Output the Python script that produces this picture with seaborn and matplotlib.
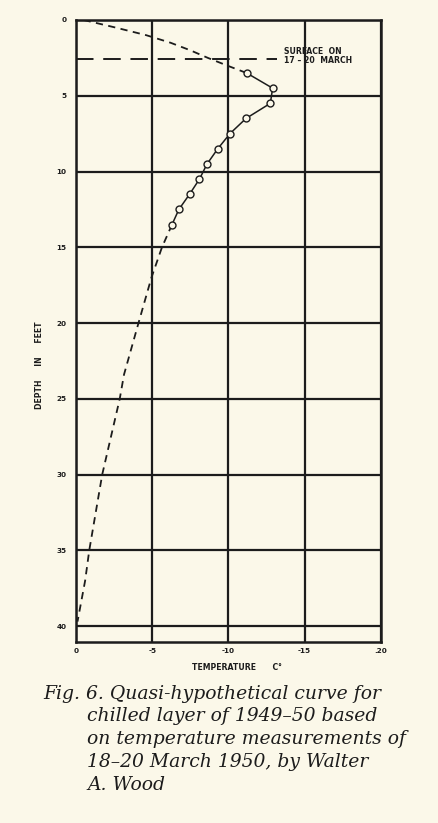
import pandas as pd
import matplotlib
matplotlib.use("Agg")
import matplotlib.pyplot as plt
import seaborn as sns

# Measured temperatures (18-20 March 1950)
depth_obs = [3.5, 4.5, 5.5, 6.5, 7.5, 8.5, 9.5, 10.5, 11.5, 12.5, 13.5]
temp_obs = [-11.2, -12.9, -12.75, -11.15, -10.1, -9.3, -8.6, -8.1, -7.45, -6.75, -6.3]

# Hypothetical part of the curve above and below the measurements
depth_upper = [0, 0.5, 1.0, 1.5, 2.0, 2.5, 3.0, 3.5]
temp_upper = [-0.5, -2.6, -4.6, -6.2, -7.5, -8.65, -9.9, -11.2]
depth_lower = [13.5, 15, 17, 20, 23.4, 25, 30, 35, 37, 39.7]
temp_lower = [-6.3, -5.64, -4.95, -4.1, -3.15, -2.87, -1.72, -0.87, -0.6, -0.1]

# Snow surface on 17-20 March
surface_depth = 2.6
surface_temp_end = -13.2

x_ticks = [0, -5, -10, -15, -20]
x_labels = ["0", "-5", "-10", "-15", ".20"]
y_ticks = [0, 5, 10, 15, 20, 25, 30, 35, 40]
y_labels = ["0", "5", "10", "15", "20", "25", "30", "35", "40"]

caption = [
    "Fig. 6. Quasi-hypothetical curve for",
    "chilled layer of 1949\u201350 based",
    "on temperature measurements of",
    "18\u201320 March 1950, by Walter",
    "A. Wood",
]

bg = "#fbf8e9"
ink = "#1c1c1c"

sns.set_theme(style="white")
plt.rcParams["font.family"] = ["DejaVu Sans"]

obs = pd.DataFrame({"temp": temp_obs, "depth": depth_obs})
upper = pd.DataFrame({"temp": temp_upper, "depth": depth_upper})
lower = pd.DataFrame({"temp": temp_lower, "depth": depth_lower})

fig = plt.figure(figsize=(4.38, 8.23), dpi=100, facecolor=bg)
ax = fig.add_axes([0.1735, 0.2199, 0.696, 0.7558])
ax.set_facecolor(bg)

# dashed extrapolations
for part in (upper, lower):
    sns.lineplot(data=part, x="temp", y="depth", sort=False, estimator=None,
                 ax=ax, color=ink, lw=1.3, linestyle=(0, (4, 3)), zorder=3)

# measured profile
sns.lineplot(data=obs, x="temp", y="depth", sort=False, estimator=None,
             ax=ax, color=ink, lw=1.1, marker="o", markersize=5,
             markerfacecolor=bg, markeredgecolor=ink, markeredgewidth=1.0,
             zorder=4)

# surface line
ax.hlines(surface_depth, 0, surface_temp_end, colors=ink, lw=1.4,
          linestyles=(0, (9, 5)), zorder=3)
ax.text(surface_temp_end - 0.45, surface_depth - 0.2, "SURFACE  ON\n17 \u2013 20  MARCH",
        fontsize=5.6, fontweight="bold", color=ink, ha="left", va="center",
        linespacing=1.0, zorder=5)

ax.set_xlim(0, -20)
ax.set_ylim(41.05, 0)
ax.set_xticks(x_ticks)
ax.set_xticklabels(x_labels)
ax.set_yticks(y_ticks)
ax.set_yticklabels(y_labels)
ax.tick_params(axis="x", length=0, pad=4, labelsize=5.2, colors=ink)
ax.tick_params(axis="y", length=4, width=1.5, pad=3, labelsize=5.2, colors=ink)
for lab in ax.get_xticklabels() + ax.get_yticklabels():
    lab.set_fontweight("bold")
ax.grid(True, color=ink, lw=1.6)
ax.set_axisbelow(True)
for sp in ax.spines.values():
    sp.set_color(ink)
    sp.set_linewidth(1.8)
ax.set_xlabel("")
ax.set_ylabel("")

fig.text(39 / 438, 1 - 365 / 823, "DEPTH     IN     FEET", rotation=90, fontsize=5.6,
         fontweight="bold", color=ink, ha="center", va="center")
fig.text(237 / 438, 1 - 667 / 823, "TEMPERATURE      C\u00b0", fontsize=5.6,
         fontweight="bold", color=ink, ha="center", va="center")

# caption in italic serif
baselines = [699, 721, 744, 767, 790]
for i, (line, yb) in enumerate(zip(caption, baselines)):
    x0 = 43 if i == 0 else 87
    fig.text(x0 / 438, 1 - yb / 823, line, family=["DejaVu Serif"],
             style="italic", fontsize=13.5, color=ink,
             ha="left", va="baseline")

fig.savefig("out.png", dpi=100, facecolor=bg)
